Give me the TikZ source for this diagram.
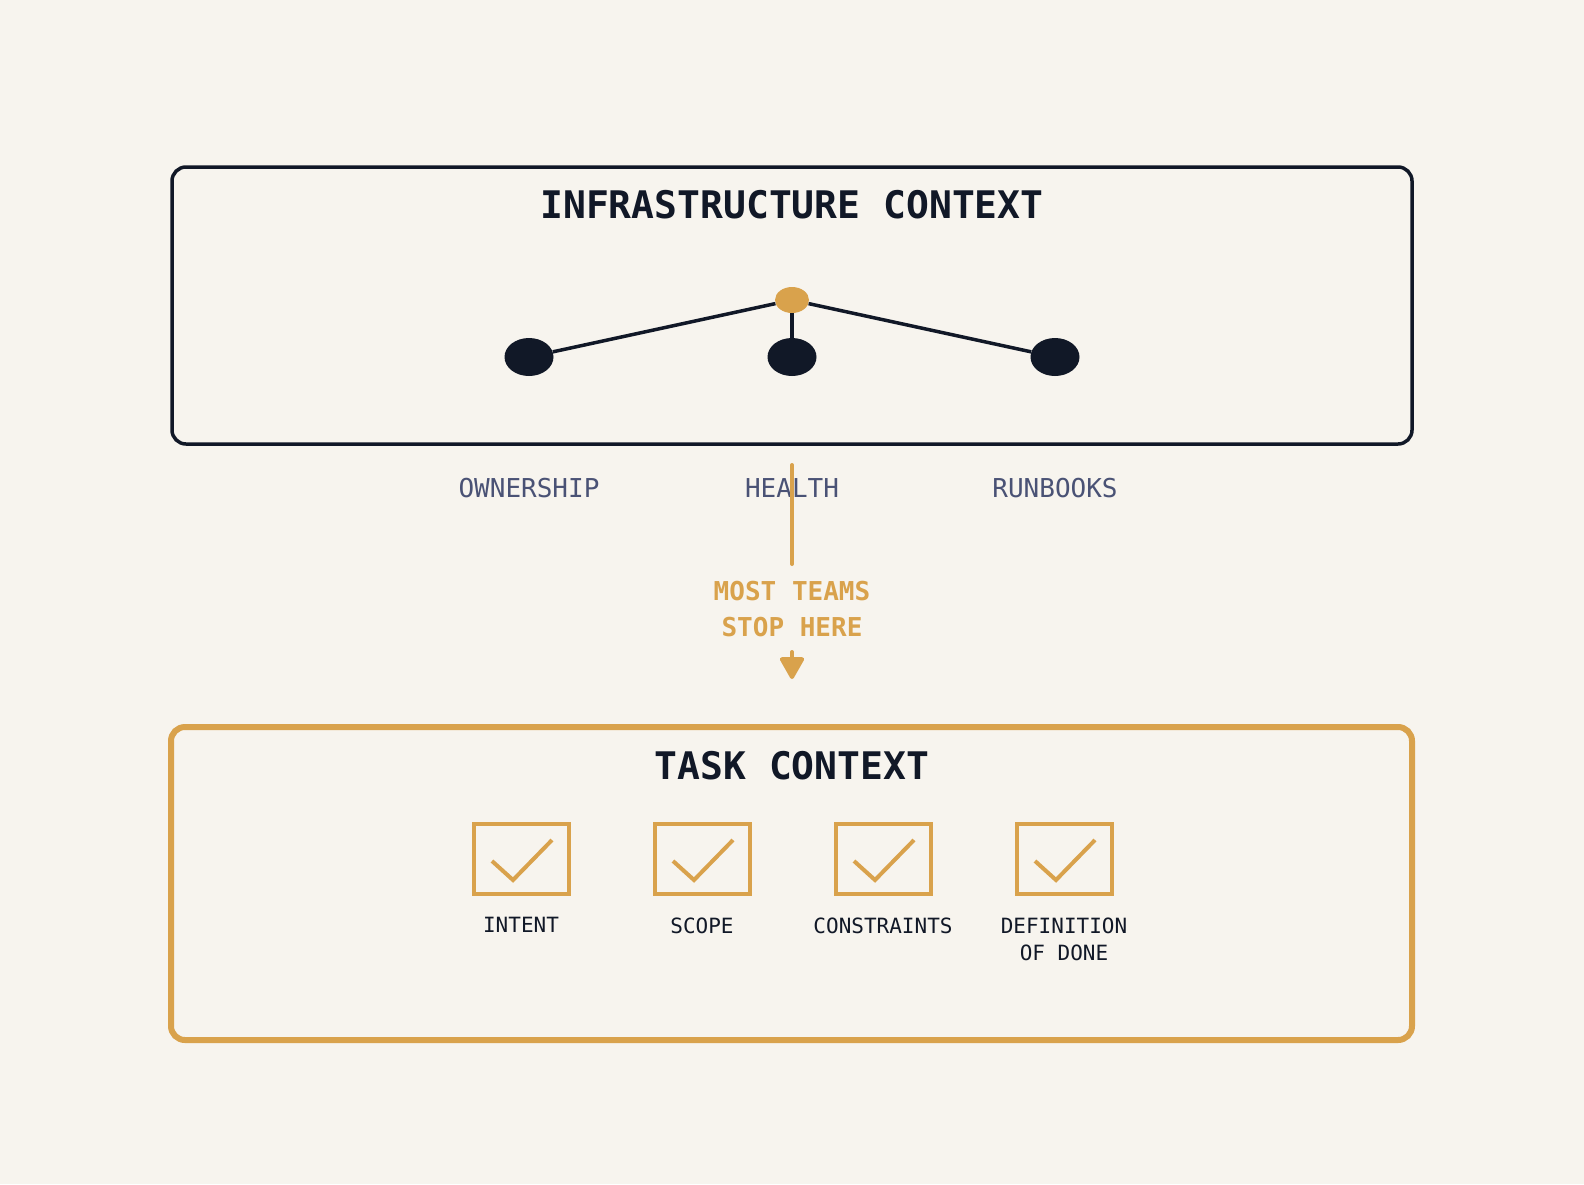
\documentclass[tikz,border=0pt]{standalone}
\usepackage{fontspec}
\setmonofont{DejaVu Sans Mono}
\usepackage{tikz}
\usetikzlibrary{positioning, shapes.geometric, arrows.meta}

\definecolor{paper}{HTML}{F7F4EE}
\definecolor{ink}{HTML}{111827}
\definecolor{gold}{HTML}{D9A24C}
\definecolor{slate}{HTML}{4A5275}

\tikzset{
    panel/.style={rounded corners=14pt},
    headline/.style={font=\ttfamily\bfseries\fontsize{38}{46}\selectfont, text=ink},
    leaf/.style={ellipse, fill=ink, minimum width=49pt, minimum height=38pt, inner sep=0pt},
    hub/.style={ellipse, fill=gold, minimum width=34pt, minimum height=26pt, inner sep=0pt},
    tag/.style={font=\ttfamily\fontsize{26}{32}\selectfont, text=slate},
    warning/.style={font=\ttfamily\bfseries\fontsize{26}{36}\selectfont, text=gold, align=center},
    tickbox/.style={draw=gold, line width=4pt, minimum width=95pt, minimum height=70pt, inner sep=0pt},
    ticklabel/.style={font=\ttfamily\fontsize{21}{27}\selectfont, text=ink, align=center}
}

\begin{document}
\begin{tikzpicture}[x=1pt, y=-1pt]
            \fill [paper] (0, 0) rectangle (1584, 1184);
            \useasboundingbox (0, 0) rectangle (1584, 1184);

            % infrastructure panel
            \draw [panel, draw=ink, line width=3.5pt] (172, 167) rectangle (1412, 444);
            \node [headline] (infratitle) at (792, 205) {INFRASTRUCTURE CONTEXT};

            \node [hub] (hub) at (792, 300) {};
            \node [leaf] (owner) at (529, 357) {};
            \node [leaf] (health) at (792, 357) {};
            \node [leaf] (runbook) at (1055, 357) {};

            \draw [ink, line width=3.5pt] (hub) -- (owner);
            \draw [ink, line width=3.5pt] (hub) -- (health);
            \draw [ink, line width=3.5pt] (hub) -- (runbook);

            \node [tag] (ownerlabel) at (529, 488) {OWNERSHIP};
            \node [tag] (healthlabel) at (792, 488) {HEALTH};
            \node [tag] (runbooklabel) at (1055, 488) {RUNBOOKS};

            % where most teams stop
            \coordinate (droptop) at (792, 465);
            \coordinate (dropend) at (792, 564);
            \draw [gold, line width=4pt, line cap=round] (droptop) -- (dropend);
            \node [warning] (stopnote) at (792, 609) {MOST TEAMS\\STOP HERE};
            \coordinate (tipstart) at (792, 652);
            \coordinate (tipend) at (792, 679);
            \draw [gold, line width=4pt, line cap=round, -{Triangle[width=26pt, length=24pt, line join=round]}] (tipstart) -- (tipend);

            % task panel
            \draw [panel, draw=gold, line width=6pt] (171, 727) rectangle (1412, 1040);
            \node [headline] (tasktitle) at (792, 766) {TASK CONTEXT};

            \foreach \name/\xpos/\caption in {intent/521/INTENT, scope/702/SCOPE, limits/883/CONSTRAINTS, done/1064/{DEFINITION\\OF DONE}} {
                \node [tickbox] (\name) at (\xpos, 859) {};
                \draw [gold, line width=4pt] ([shift={(-29, 2)}]\name.center) -- ([shift={(-8, 21)}]\name.center) -- ([shift={(31, -19)}]\name.center);
                \node [ticklabel, below=18pt of \name.south, anchor=north] (\name label) {\caption};
            }
        \end{tikzpicture}
\end{document}
